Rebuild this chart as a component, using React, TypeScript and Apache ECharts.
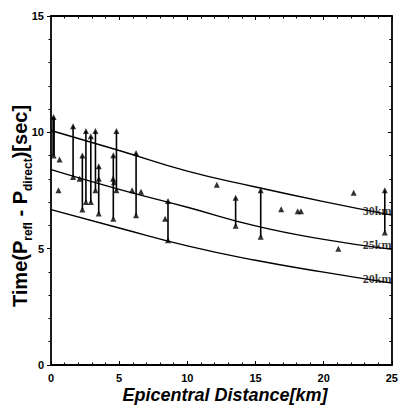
import React, { useEffect, useRef } from "react";
import * as echarts from "echarts";

const curveX = [0, 5, 10, 15, 20, 25];
const curve30 = [10.08, 9.22, 8.33, 7.65, 7.02, 6.44];
const curve25 = [8.4, 7.55, 6.78, 5.98, 5.4, 4.97];
const curve20 = [6.68, 5.89, 5.12, 4.5, 3.99, 3.52];
const curveNames = ["30km", "25km", "20km"];

const arrowX = [0.19, 1.62, 2.3, 2.56, 2.92, 3.26, 3.5, 4.57, 4.8, 6.24, 8.58, 13.54, 15.38, 24.48];
const arrowTop = [10.66, 10.26, 9.0, 10.06, 9.83, 10.06, 8.54, 9.01, 10.06, 9.11, 7.05, 7.19, 7.51, 7.51];
const arrowBottom = [9.0, 8.08, 6.68, 7.01, 7.01, 7.51, 6.51, 6.29, 7.51, 6.44, 5.36, 5.98, 5.51, 5.7];

const pointX = [0.63, 0.55, 2.1, 3.5, 4.55, 4.62, 5.95, 6.6, 8.37, 12.16, 16.88, 18.09, 18.33, 21.07, 22.2];
const pointY = [8.83, 7.51, 8.0, 8.01, 8.0, 7.85, 7.51, 7.45, 6.29, 7.75, 6.69, 6.61, 6.61, 5.0, 7.4];

const xTicks = [0, 5, 10, 15, 20, 25];
const yTicks = [0, 5, 10, 15];

export default function App() {
  const ref = useRef<HTMLDivElement>(null);
  useEffect(() => {
    if (!ref.current) return;
    const chart = echarts.init(ref.current, null, { renderer: "svg" });
    const curves = [curve30, curve25, curve20];
    const lineSeries = curves.map((c) => ({
      type: "line",
      smooth: true,
      symbol: "none",
      showSymbol: false,
      xAxisIndex: 0,
      yAxisIndex: 0,
      lineStyle: { color: "#000", width: 1.4 },
      data: c.map((v, j) => [curveX[j], v]),
      z: 3,
    }));
    const labelSeries = {
      type: "scatter",
      xAxisIndex: 0,
      yAxisIndex: 0,
      symbol: "circle",
      symbolSize: 1,
      itemStyle: { color: "rgba(0,0,0,0)" },
      data: curves.map((c, i) => ({
        value: [curveX[curveX.length - 1], c[c.length - 1]],
        name: curveNames[i],
      })),
      label: {
        show: true,
        formatter: (p: any) => p.name,
        position: [0, 2],
        align: "right",
        verticalAlign: "bottom",
        fontFamily: "Liberation Serif",
        fontWeight: "bold",
        fontSize: 12,
        color: "#000",
      },
      z: 6,
    };
    const tris: number[][] = [];
    arrowX.forEach((x, i) => {
      tris.push([x, arrowTop[i]]);
      tris.push([x, arrowBottom[i]]);
    });
    pointX.forEach((x, i) => tris.push([x, pointY[i]]));

    const axisLineStyle = { color: "#000", width: 1.8 };
    const labelStyle = {
      color: "#000",
      fontFamily: "Liberation Sans",
      fontWeight: "bold",
      fontSize: 11,
    };
    const option: any = {
      animation: false,
      grid: { left: 51, right: 6, top: 16, bottom: 40 },
      xAxis: [
        {
          type: "value",
          min: 0,
          max: 25,
          interval: 5,
          position: "bottom",
          axisLine: { show: true, onZero: false, lineStyle: axisLineStyle },
          axisTick: { show: true, inside: true, length: 4, lineStyle: { color: "#000", width: 1 } },
          minorTick: { show: true, splitNumber: 5, length: 2.5, lineStyle: { color: "#000", width: 1 } },
          splitLine: { show: false },
          axisLabel: { ...labelStyle, margin: 7, formatter: (v: number) => (xTicks.includes(v) ? String(v) : "") },
        },
        {
          type: "value",
          min: 0,
          max: 25,
          interval: 5,
          position: "top",
          axisLine: { show: true, onZero: false, lineStyle: axisLineStyle },
          axisTick: { show: true, inside: true, length: 4, lineStyle: { color: "#000", width: 1 } },
          minorTick: { show: true, splitNumber: 5, length: 2.5, lineStyle: { color: "#000", width: 1 } },
          splitLine: { show: false },
          axisLabel: { show: false },
        },
      ],
      yAxis: [
        {
          type: "value",
          min: 0,
          max: 15,
          interval: 5,
          position: "left",
          axisLine: { show: true, onZero: false, lineStyle: axisLineStyle },
          axisTick: { show: true, inside: false, length: 4, lineStyle: { color: "#000", width: 1 } },
          minorTick: { show: true, splitNumber: 5, length: 2.5, lineStyle: { color: "#000", width: 1 } },
          splitLine: { show: false },
          axisLabel: { ...labelStyle, margin: 7, formatter: (v: number) => (yTicks.includes(v) ? String(v) : "") },
        },
        {
          type: "value",
          min: 0,
          max: 15,
          interval: 5,
          position: "right",
          axisLine: { show: true, onZero: false, lineStyle: axisLineStyle },
          axisTick: { show: true, inside: true, length: 4, lineStyle: { color: "#000", width: 1 } },
          minorTick: { show: true, splitNumber: 5, length: 2.5, lineStyle: { color: "#000", width: 1 } },
          splitLine: { show: false },
          axisLabel: { show: false },
        },
      ],
      graphic: [
        {
          type: "text",
          x: 225,
          y: 395,
          style: {
            text: "Epicentral Distance[km]",
            fill: "#000",
            font: "italic bold 18px 'Liberation Sans'",
            textAlign: "center",
            textVerticalAlign: "middle",
          },
        },
        {
          type: "text",
          x: 20,
          y: 206,
          rotation: Math.PI / 2,
          style: {
            text: "{a|Time(P}{s|refl}{a| - P}{s|direct}{a|)[sec]}",
            fill: "#000",
            align: "center",
            verticalAlign: "middle",
            rich: {
              a: {
                fontFamily: "Liberation Sans",
                fontWeight: "bold",
                fontSize: 20,
                lineHeight: 28,
                verticalAlign: "middle",
                fill: "#000",
              },
              s: {
                fontFamily: "Liberation Sans",
                fontWeight: "bold",
                fontSize: 12,
                lineHeight: 14,
                verticalAlign: "bottom",
                fill: "#000",
              },
            },
          },
        },
      ],
      series: [
        ...lineSeries,
        labelSeries,
        {
          type: "custom",
          xAxisIndex: 0,
          yAxisIndex: 0,
          data: arrowX.map((x, i) => [x, arrowTop[i], arrowBottom[i]]),
          encode: { x: 0, y: [1, 2] },
          renderItem: (params: any, api: any) => {
            const x = api.value(0);
            const p1 = api.coord([x, api.value(1)]);
            const p2 = api.coord([x, api.value(2)]);
            return {
              type: "line",
              shape: { x1: p1[0], y1: p1[1], x2: p2[0], y2: p2[1] },
              style: { stroke: "#000", lineWidth: params.dataIndex === 0 ? 2.6 : 1.6 },
            };
          },
          z: 4,
        },
        {
          type: "scatter",
          xAxisIndex: 0,
          yAxisIndex: 0,
          symbol: "triangle",
          symbolSize: [6, 6],
          itemStyle: { color: "#000" },
          data: tris,
          z: 5,
        },
      ],
    };
    chart.setOption(option);
    return () => chart.dispose();
  }, []);
  return <div ref={ref} style={{ width: 401, height: 405, position: "absolute", left: 0, top: 0 }} />;
}
